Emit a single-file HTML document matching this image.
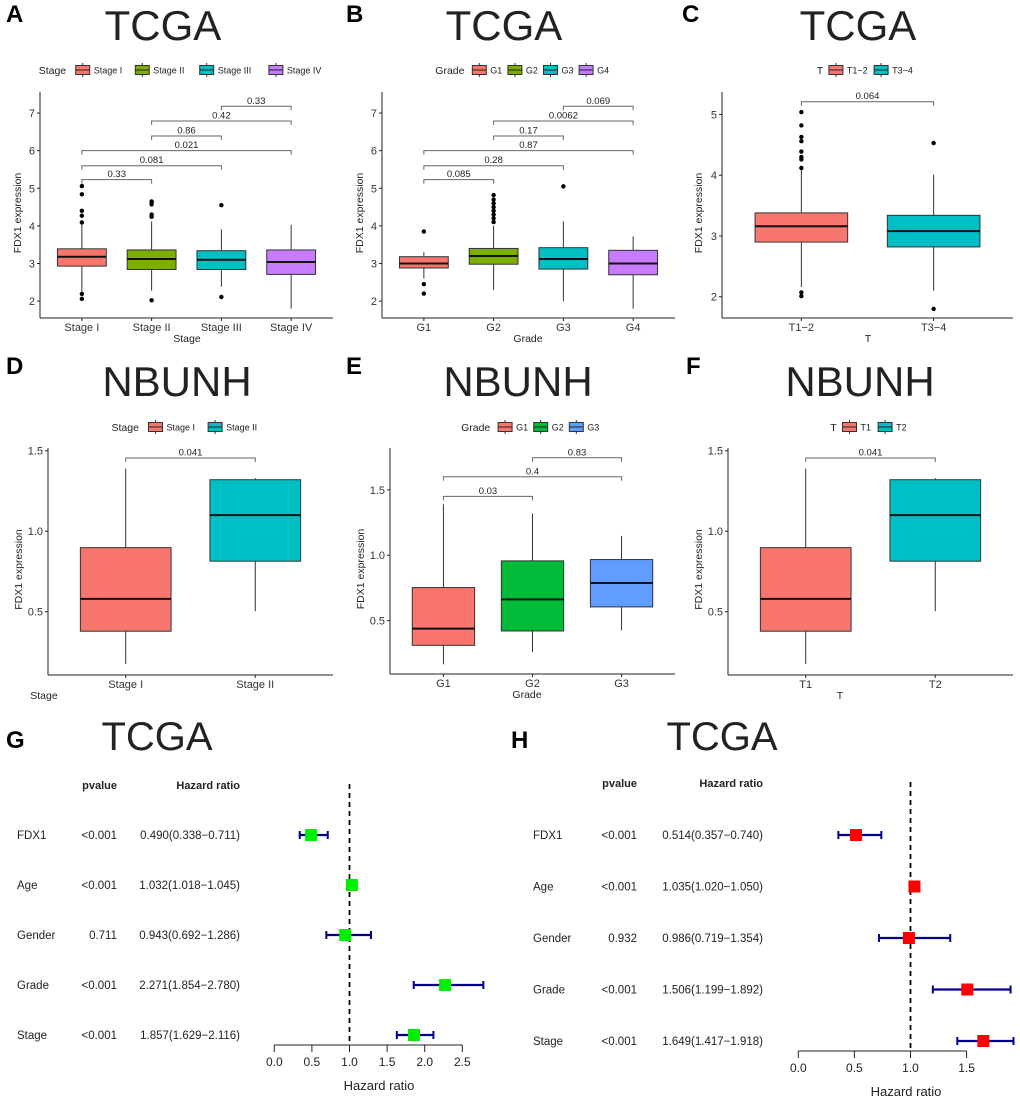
<!DOCTYPE html>
<html><head><meta charset="utf-8"><style>
body{margin:0;background:#fff;}
svg{display:block;font-family:"Liberation Sans",Arial,sans-serif;}
</style></head><body>
<svg id="fig" width="1020" height="1103" viewBox="0 0 1020 1103" xmlns="http://www.w3.org/2000/svg"></svg>
<script>
// ---------- Panel A data ----------
const aCats=["Stage I","Stage II","Stage III","Stage IV"];
const aQ1=[2.93,2.84,2.84,2.71];
const aMed=[3.18,3.12,3.10,3.04];
const aQ3=[3.39,3.36,3.34,3.36];
const aLo=[2.25,2.28,2.38,1.80];
const aHi=[4.06,4.12,3.91,4.03];
const aOut=[[4.09,4.27,4.40,4.84,5.06,2.19,2.06],[4.24,4.30,4.57,4.62,4.65,2.02],[4.55,2.11],[]];
const aCmpPair=[[0,1],[0,2],[0,3],[1,2],[1,3],[2,3]];
const aCmpP=["0.33","0.081","0.021","0.86","0.42","0.33"];
const aCmpY=[5.23,5.60,6.00,6.39,6.79,7.18];
// ---------- Panel B data ----------
const bCats=["G1","G2","G3","G4"];
const bQ1=[2.88,2.98,2.85,2.70];
const bMed=[3.00,3.20,3.12,3.00];
const bQ3=[3.18,3.40,3.42,3.35];
const bLo=[2.60,2.30,2.00,1.80];
const bHi=[3.30,4.00,4.12,3.72];
const bOut=[[3.85,2.45,2.20],[4.10,4.20,4.30,4.40,4.50,4.60,4.70,4.82],[5.05],[]];
const bCmpPair=[[0,1],[0,2],[0,3],[1,2],[1,3],[2,3]];
const bCmpP=["0.085","0.28","0.87","0.17","0.0062","0.069"];
const bCmpY=[5.23,5.60,6.00,6.39,6.79,7.18];
// ---------- Panel C data ----------
const cCats=["T1\u22122","T3\u22124"];
const cQ1=[2.90,2.82];
const cMed=[3.16,3.08];
const cQ3=[3.38,3.34];
const cLo=[2.16,2.10];
const cHi=[4.12,4.01];
const cOut=[[4.12,4.26,4.30,4.39,4.56,4.63,4.82,5.04,2.07,2.01],[4.53,1.80]];
const cCmpPair=[[0,1]];
const cCmpP=["0.064"];
const cCmpY=[5.21];
// ---------- Panel D / F data ----------
const dCats=["Stage I","Stage II"];
const fCats=["T1","T2"];
const dQ1=[0.379,0.814];
const dMed=[0.58,1.10];
const dQ3=[0.898,1.32];
const dLo=[0.176,0.503];
const dHi=[1.39,1.33];
const dCmpPair=[[0,1]];
const dCmpP=["0.041"];
const dCmpY=[1.455];
// ---------- Panel E data ----------
const eCats=["G1","G2","G3"];
const eQ1=[0.311,0.421,0.605];
const eMed=[0.439,0.663,0.788];
const eQ3=[0.753,0.957,0.967];
const eLo=[0.166,0.26,0.426];
const eHi=[1.39,1.319,1.148];
const eCmpPair=[[0,1],[0,2],[1,2]];
const eCmpP=["0.03","0.4","0.83"];
const eCmpY=[1.45,1.60,1.745];
// ---------- Forest G data ----------
const gNames=["FDX1","Age","Gender","Grade","Stage"];
const gP=["<0.001","<0.001","0.711","<0.001","<0.001"];
const gHR=[0.490,1.032,0.943,2.271,1.857];
const gLo=[0.338,1.018,0.692,1.854,1.629];
const gHi=[0.711,1.045,1.286,2.780,2.116];
const gTicks=[0,0.5,1,1.5,2,2.5];
// ---------- Forest H data ----------
const hNames=["FDX1","Age","Gender","Grade","Stage"];
const hP=["<0.001","<0.001","0.932","<0.001","<0.001"];
const hHR=[0.514,1.035,0.986,1.506,1.649];
const hLo=[0.357,1.020,0.719,1.199,1.417];
const hHi=[0.740,1.050,1.354,1.892,1.918];
const hTicks=[0,0.5,1,1.5];

const NS="http://www.w3.org/2000/svg";
const svg=document.getElementById('fig');
function mk(tag,attrs,parent){const e=document.createElementNS(NS,tag);for(const k in attrs)e.setAttribute(k,attrs[k]);(parent||svg).appendChild(e);return e;}
function txt(s,attrs,parent){const e=mk('text',attrs,parent);e.textContent=s;return e;}
function fmt(v){return v.toFixed(1);}

function boxPanel(P){
  const g=mk('g',{});
  
  
  const L=txt(P.letter,{x:P.lx,y:P.ly,'font-size':24,'font-weight':'bold',fill:'#000'},g);
  
  const T=txt(P.title,{x:P.tx,y:P.ty,'font-size':42,'text-anchor':'middle',fill:'#222'},g);
  
  const lg=mk('g',{},g);
  
  let widths=P.cats.map(c=>c.length*4.8+7);
  let tw=P.legTitle.length*6.2+6;
  let total=tw+widths.reduce((a,b)=>a+b,0)+P.cats.length*19;
  let cx=P.legCx-total/2;
  txt(P.legTitle,{x:cx,y:P.legY+4,'font-size':10.5,fill:'#222'},lg);
  cx+=tw;
  P.cats.forEach((c,i)=>{
    const e=mk('g',{},lg);
    
    mk('line',{x1:cx+7,x2:cx+7,y1:P.legY-7,y2:P.legY+7,stroke:'#333','stroke-width':1},e);
    mk('rect',{x:cx,y:P.legY-4.5,width:14,height:9,fill:P.colors[i],stroke:'#333','stroke-width':1},e);
    mk('line',{x1:cx,x2:cx+14,y1:P.legY,y2:P.legY,stroke:'#222','stroke-width':1},e);
    txt(c,{x:cx+18,y:P.legY+3.5,'font-size':9,fill:'#222'},e);
    cx+=19+widths[i];
  });
  const n=P.cats.length;
  const U=(P.x1-P.x0)/(n-1+1.2);
  const X=i=>P.x0+(0.6+i)*U;
  const Y=v=>P.yb-(v-P.dmin)/(P.dmax-P.dmin)*(P.yb-P.yt);
  const hw=0.35*U;
  const ax=mk('g',{},g);
  
  mk('line',{x1:P.x0,x2:P.x0,y1:P.yt,y2:P.yb,stroke:'#222','stroke-width':1},ax);
  P.yticks.forEach(t=>{
    mk('line',{x1:P.x0-3,x2:P.x0,y1:Y(t),y2:Y(t),stroke:'#222'},ax);
    txt(P.tickFmt(t),{x:P.x0-5,y:Y(t)+4,'font-size':11,'text-anchor':'end',fill:'#333'},ax);
  });
  const yt=txt('FDX1  expression',{x:0,y:0,'font-size':10.5,'text-anchor':'middle',fill:'#222',transform:`translate(${P.x0-P.ytOff},${(P.yt+P.yb)/2+8}) rotate(-90)`},g);
  
  const xa=mk('g',{},g);
  
  mk('line',{x1:P.x0,x2:P.x1,y1:P.yb,y2:P.yb,stroke:'#222','stroke-width':1},xa);
  P.cats.forEach((c,i)=>{
    mk('line',{x1:X(i),x2:X(i),y1:P.yb,y2:P.yb+3,stroke:'#222'},xa);
    txt(c,{x:X(i),y:P.yb+13,'font-size':11,'text-anchor':'middle',fill:'#333'},xa);
  });
  const xt=txt(P.xTitle,{x:P.xtx,y:P.yb+24,'font-size':10.5,'text-anchor':'middle',fill:'#222'},g);
  
  P.cats.forEach((c,i)=>{
    const b=mk('g',{},g);
    
    
    mk('line',{x1:X(i),x2:X(i),y1:Y(P.hi[i]),y2:Y(P.q3[i]),stroke:'#333','stroke-width':1},b);
    mk('line',{x1:X(i),x2:X(i),y1:Y(P.q1[i]),y2:Y(P.lo[i]),stroke:'#333','stroke-width':1},b);
    mk('rect',{x:X(i)-hw,y:Y(P.q3[i]),width:2*hw,height:Y(P.q1[i])-Y(P.q3[i]),fill:P.colors[i],stroke:'#333','stroke-width':1},b);
    mk('line',{x1:X(i)-hw,x2:X(i)+hw,y1:Y(P.med[i]),y2:Y(P.med[i]),stroke:'#111','stroke-width':2},b);
    (P.out?P.out[i]:[]).forEach(o=>{
      const d=mk('circle',{cx:X(i),cy:Y(o),r:2.2,fill:'#000'},b);
      
    });
  });
  P.pairs.forEach((p,k)=>{
    const br=mk('g',{},g);
    
    const y=Y(P.cy[k]);
    mk('polyline',{points:`${X(p[0])},${y+4} ${X(p[0])},${y} ${X(p[1])},${y} ${X(p[1])},${y+4}`,fill:'none',stroke:'#666','stroke-width':1},br);
    txt(P.pv[k],{x:(X(p[0])+X(p[1]))/2,y:y-2.5,'font-size':9.5,'text-anchor':'middle',fill:'#222'},br);
  });
}
const pal4=["#F8766D","#7CAE00","#00BFC4","#C77CFF"];
const f1=t=>String(t);
boxPanel({name:'panel-a',letter:'A',lx:6,ly:22,title:'TCGA',tx:163,ty:40,legTitle:'Stage',legCx:186,legY:70,cats:aCats,colors:pal4,
 x0:40,x1:333,yt:92,yb:318,dmin:1.55,dmax:7.56,yticks:[2,3,4,5,6,7],tickFmt:f1,xTitle:'Stage',xtx:187,ytOff:19,
 q1:aQ1,med:aMed,q3:aQ3,lo:aLo,hi:aHi,out:aOut,pairs:aCmpPair,pv:aCmpP,cy:aCmpY});
boxPanel({name:'panel-b',letter:'B',lx:346,ly:22,title:'TCGA',tx:504,ty:40,legTitle:'Grade',legCx:525,legY:70,cats:bCats,colors:pal4,
 x0:382,x1:675,yt:92,yb:318,dmin:1.55,dmax:7.56,yticks:[2,3,4,5,6,7],tickFmt:f1,xTitle:'Grade',xtx:528,ytOff:19,
 q1:bQ1,med:bMed,q3:bQ3,lo:bLo,hi:bHi,out:bOut,pairs:bCmpPair,pv:bCmpP,cy:bCmpY});
boxPanel({name:'panel-c',letter:'C',lx:682,ly:22,title:'TCGA',tx:858,ty:40,legTitle:'T',legCx:868,legY:70,cats:cCats,colors:["#F8766D","#00BFC4"],
 x0:722,x1:1013,yt:92,yb:318,dmin:1.65,dmax:5.37,yticks:[2,3,4,5],tickFmt:f1,xTitle:'T',xtx:868,ytOff:20,
 q1:cQ1,med:cMed,q3:cQ3,lo:cLo,hi:cHi,out:cOut,pairs:cCmpPair,pv:cCmpP,cy:cCmpY});
boxPanel({name:'panel-d',letter:'D',lx:6,ly:374,title:'NBUNH',tx:177,ty:396,legTitle:'Stage',legCx:192,legY:427,cats:dCats,colors:["#F8766D","#00BFC4"],
 x0:48,x1:333,yt:448,yb:675,dmin:0.107,dmax:1.517,yticks:[0.5,1,1.5],tickFmt:fmt,xTitle:'Stage',xtx:44,ytOff:26,
 q1:dQ1,med:dMed,q3:dQ3,lo:dLo,hi:dHi,out:null,pairs:dCmpPair,pv:dCmpP,cy:dCmpY});
boxPanel({name:'panel-e',letter:'E',lx:346,ly:374,title:'NBUNH',tx:518,ty:396,legTitle:'Grade',legCx:533,legY:427,cats:eCats,colors:["#F8766D","#00BA38","#619CFF"],
 x0:390,x1:675,yt:448,yb:674,dmin:0.092,dmax:1.82,yticks:[0.5,1,1.5],tickFmt:fmt,xTitle:'Grade',xtx:527,ytOff:26,
 q1:eQ1,med:eMed,q3:eQ3,lo:eLo,hi:eHi,out:null,pairs:eCmpPair,pv:eCmpP,cy:eCmpY});
boxPanel({name:'panel-f',letter:'F',lx:686,ly:374,title:'NBUNH',tx:860,ty:396,legTitle:'T',legCx:872,legY:427,cats:fCats,colors:["#F8766D","#00BFC4"],
 x0:728,x1:1013,yt:448,yb:675,dmin:0.107,dmax:1.517,yticks:[0.5,1,1.5],tickFmt:fmt,xTitle:'T',xtx:840,ytOff:26,
 q1:dQ1,med:dMed,q3:dQ3,lo:dLo,hi:dHi,out:null,pairs:dCmpPair,pv:dCmpP,cy:dCmpY});

function forest(F){
  const g=mk('g',{});
  
  const L=txt(F.letter,{x:F.lx,y:748,'font-size':24,'font-weight':'bold',fill:'#000'},g);
  
  const T=txt('TCGA',{x:F.tx,y:750,'font-size':40,'text-anchor':'middle',fill:'#222'},g);
  
  txt('pvalue',{x:F.px,y:F.hy,'font-size':11,'font-weight':'bold','text-anchor':'end',fill:'#222'},g);
  txt('Hazard ratio',{x:F.hrx,y:F.hy,'font-size':11,'font-weight':'bold','text-anchor':'end',fill:'#222'},g);
  const X=v=>F.x0+v*F.scale;
  const RY=i=>F.r0+i*F.dr;
  const ax=mk('g',{},g);
  
  mk('line',{x1:X(F.ticks[0]),x2:X(F.ticks[F.ticks.length-1]),y1:F.ay,y2:F.ay,stroke:'#222'},ax);
  F.ticks.forEach(t=>{
    mk('line',{x1:X(t),x2:X(t),y1:F.ay,y2:F.ay+7,stroke:'#222'},ax);
    txt(t.toFixed(1),{x:X(t),y:F.ay+21,'font-size':12,'text-anchor':'middle',fill:'#222'},ax);
  });
  const xt=txt('Hazard ratio',{x:F.xtx,y:F.ay+45,'font-size':13,'text-anchor':'middle',fill:'#222'},g);
  
  const rl=mk('line',{x1:X(1),x2:X(1),y1:F.hy-5,y2:F.ay,stroke:'#000','stroke-width':1.8,'stroke-dasharray':'5,4'},g);
  
  F.names.forEach((n,i)=>{
    const r=mk('g',{},g);
    
    const y=RY(i);
    txt(n,{x:F.nx,y:y+4,'font-size':11.5,fill:'#222'},r);
    txt(F.p[i],{x:F.px,y:y+4,'font-size':11.5,'text-anchor':'end',fill:'#222'},r);
    txt(F.hr[i].toFixed(3)+'('+F.lo[i].toFixed(3)+'\u2212'+F.hi[i].toFixed(3)+')',{x:F.hrx,y:y+4,'font-size':11.5,'text-anchor':'end',fill:'#222'},r);
    mk('line',{x1:X(F.lo[i]),x2:X(F.hi[i]),y1:y,y2:y,stroke:'#00008B','stroke-width':2.2},r);
    mk('line',{x1:X(F.lo[i]),x2:X(F.lo[i]),y1:y-4,y2:y+4,stroke:'#00008B','stroke-width':2},r);
    mk('line',{x1:X(F.hi[i]),x2:X(F.hi[i]),y1:y-4,y2:y+4,stroke:'#00008B','stroke-width':2},r);
    const s=mk('rect',{x:X(F.hr[i])-6,y:y-6,width:12,height:12,fill:F.color},r);
    
  });
}
forest({name:'panel-g',letter:'G',lx:6,tx:157,hy:789,px:117,hrx:240,nx:17,names:gNames,p:gP,hr:gHR,lo:gLo,hi:gHi,ticks:gTicks,
 x0:274.3,scale:75.2,r0:835,dr:50,ay:1045,xtx:379,color:'#00EE00'});
forest({name:'panel-h',letter:'H',lx:511,tx:722,hy:787,px:637,hrx:763,nx:533,names:hNames,p:hP,hr:hHR,lo:hLo,hi:hHi,ticks:hTicks,
 x0:798.3,scale:112.2,r0:835,dr:51.5,ay:1051,xtx:906,color:'#FF0000'});
</script>
</body></html>
